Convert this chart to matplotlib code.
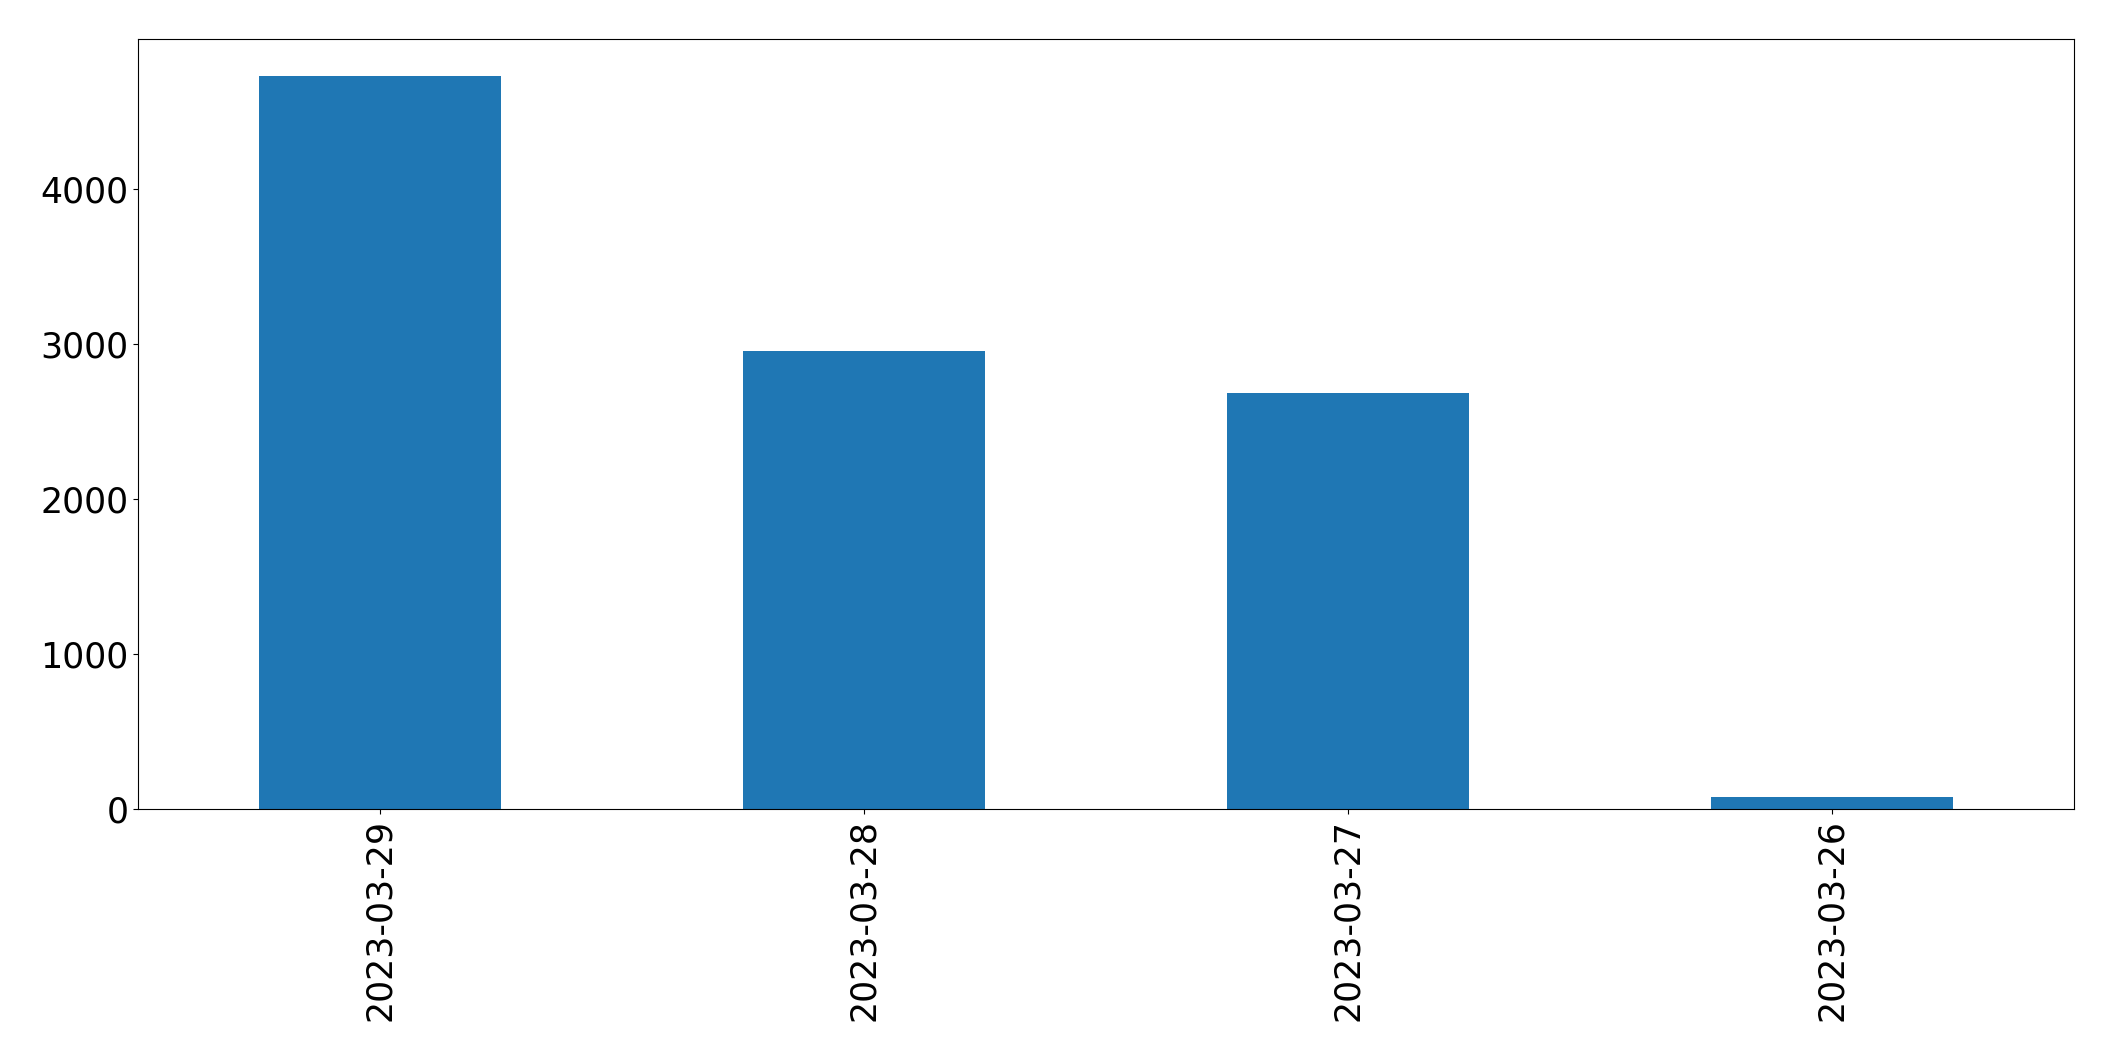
import numpy as np
import matplotlib
matplotlib.use('Agg')
import matplotlib.pyplot as plt

dates = ['2023-03-29', '2023-03-28', '2023-03-27', '2023-03-26']
counts = [4731, 2957, 2686, 81]

W, H = 2115, 1061
fig = plt.figure(figsize=(W / 100, H / 100), dpi=100)
ax = fig.add_axes([138.3 / W, (H - 809.3) / H, 1936 / W, 770 / H])

x = np.arange(len(dates))
ax.bar(x, counts, width=0.5, color='#1f77b4')
ax.set_xlim(-0.5, len(dates) - 0.5)
ax.set_ylim(0, max(counts) * 1.05)
ax.set_yticks([0, 1000, 2000, 3000, 4000])
ax.set_xticks(x)
ax.set_xticklabels(dates, rotation=90)
ax.tick_params(labelsize=25)

fig.savefig('out.png', dpi=100)
